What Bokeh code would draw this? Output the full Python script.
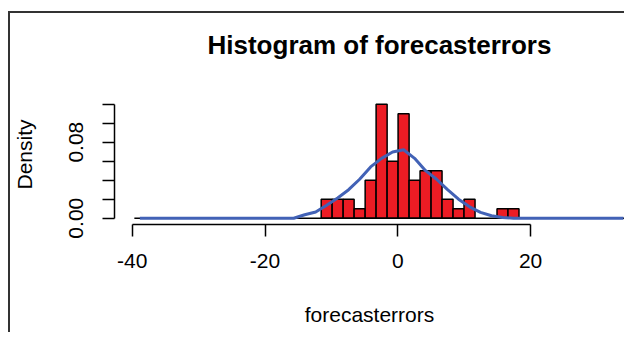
from bokeh.plotting import figure
from bokeh.models import Range1d, FixedTicker, ColumnDataSource, InlineStyleSheet
from bokeh.embed import file_html
from bokeh.resources import INLINE

# ---- data ----
bin_edges = [-39.68, -38.02, -36.37, -34.71, -33.06, -31.40, -29.75, -28.09, -26.44,
             -24.78, -23.13, -21.47, -19.82, -18.16, -16.51, -14.85, -13.20, -11.54,
             -9.89, -8.23, -6.58, -4.92, -3.27, -1.61, 0.04, 1.70, 3.35, 5.01, 6.66,
             8.32, 9.97, 11.63, 13.28, 14.94, 16.59, 18.25, 19.90, 21.56, 23.21, 24.87,
             26.52, 28.18, 29.83, 31.49, 33.14, 34.80]

hist_density = [0, 0, 0, 0, 0, 0, 0, 0, 0, 0, 0, 0, 0, 0, 0, 0, 0,
                0.02, 0.02, 0.02, 0.01, 0.04, 0.12, 0.06, 0.11, 0.04, 0.05, 0.05,
                0.02, 0.01, 0.02,
                0, 0,
                0.01, 0.01,
                0, 0, 0, 0, 0, 0, 0, 0, 0, 0]

normal_density = [0, 0, 0, 0, 0, 0, 0, 0, 0, 0, 0, 0, 0, 0, 0,
                  0.0036, 0.0065, 0.0136, 0.0213, 0.030, 0.041, 0.054, 0.063, 0.0697,
                  0.072, 0.063, 0.050, 0.041, 0.030, 0.020, 0.012, 0.0062, 0.0026, 0.0007,
                  0, 0, 0, 0, 0, 0, 0, 0, 0, 0, 0]

x_ticks = [-40, -20, 0, 20]
x_tick_labels = ["-40", "-20", "0", "20"]
y_ticks = [0.0, 0.02, 0.04, 0.06, 0.08, 0.10, 0.12]
y_tick_labels = ["0.00", "", "", "", "0.08", "", ""]

title_text = "Histogram of forecasterrors"
x_label = "forecasterrors"
y_label = "Density"

FONT = "Liberation Sans"

# ---- derived sources ----
lefts = [bin_edges[i] for i in range(len(hist_density)) if hist_density[i] > 0]
rights = [bin_edges[i + 1] for i in range(len(hist_density)) if hist_density[i] > 0]
tops = [d for d in hist_density if d > 0]
bars = ColumnDataSource(dict(left=lefts, right=rights, top=tops, bottom=[0] * len(tops)))

mids = [(bin_edges[i] + bin_edges[i + 1]) / 2 for i in range(len(normal_density))]
curve = ColumnDataSource(dict(x=mids, y=normal_density))

p = figure(width=624, height=332,
           x_range=Range1d(-42.67, 34.14), y_range=Range1d(-0.00663, 0.1407),
           output_backend="svg", toolbar_location=None,
           min_border_left=114, min_border_right=0, min_border_top=84, min_border_bottom=108,
           title=title_text)

p.background_fill_color = "white"
p.border_fill_color = "white"
p.outline_line_color = None
p.xgrid.visible = False
p.ygrid.visible = False

p.title.text_font = FONT
p.title.text_font_style = "bold"
p.title.text_font_size = "26px"
p.title.text_color = "black"
p.title.align = "left"
p.title.vertical_align = "bottom"
p.title.offset = 93
p.title.standoff = 49

# bars
p.quad(left="left", right="right", top="top", bottom="bottom", source=bars,
       fill_color="#EC1C24", line_color="black", line_width=1.5)
# zero-height bins baseline
p.segment(x0=[bin_edges[0]], y0=[0], x1=[bin_edges[-1]], y1=[0],
          line_color="black", line_width=1.5)
# normal curve
p.line(x="x", y="y", source=curve, line_color="#4262B6", line_width=3)

# axes
xa = p.xaxis[0]
xa.ticker = FixedTicker(ticks=x_ticks)
xa.bounds = (x_ticks[0], x_ticks[-1])
xa.major_label_overrides = {t: lab for t, lab in zip(x_ticks, x_tick_labels)}
xa.axis_label = x_label
ya = p.yaxis[0]
ya.ticker = FixedTicker(ticks=y_ticks)
ya.bounds = (y_ticks[0], y_ticks[-1])
ya.major_label_overrides = {t: lab for t, lab in zip(y_ticks, y_tick_labels)}
ya.major_label_orientation = "vertical"
ya.axis_label = y_label

for ax in (xa, ya):
    ax.axis_line_color = "black"
    ax.axis_line_width = 1.5
    ax.major_tick_line_color = "black"
    ax.major_tick_line_width = 1.5
    ax.major_tick_out = 12
    ax.major_tick_in = 0
    ax.minor_tick_line_color = None
    ax.major_label_text_font = FONT
    ax.major_label_text_font_size = "21px"
    ax.major_label_text_color = "black"
    ax.axis_label_text_font = FONT
    ax.axis_label_text_font_size = "21px"
    ax.axis_label_text_font_style = "normal"
    ax.axis_label_text_color = "black"

xa.major_label_standoff = 17
xa.axis_label_standoff = 32
ya.major_label_standoff = 19
ya.axis_label_standoff = 31

# outer device frame (only its top and left edges are visible)
p.stylesheets = [InlineStyleSheet(css="""
:host { position: relative; }
:host::after {
  content: "";
  position: absolute;
  left: 8px; top: 11px; right: 0px; bottom: 0px;
  border-top: 2px solid #333333;
  border-left: 2px solid #333333;
  border-right: none;
  border-bottom: none;
  pointer-events: none;
}
""")]

open("out.html", "w").write(file_html(p, INLINE))
